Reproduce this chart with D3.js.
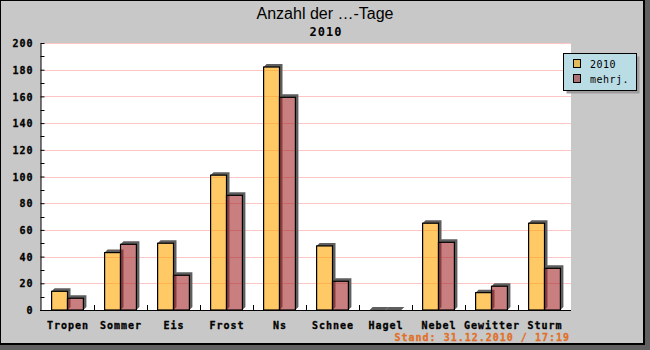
<!DOCTYPE html>
<html>
<head>
<meta charset="utf-8">
<script src="https://cdn.jsdelivr.net/npm/d3@7"></script>
<style>
  html, body { margin: 0; padding: 0; background: #ffffff; }
  svg { display: block; }
  .mono { font-family: "DejaVu Sans Mono", "Liberation Mono", monospace; }
</style>
</head>
<body>
<div id="chart"></div>
<script>
// Day counts per category: current year and the multi-year mean
const categories = ["Tropen", "Sommer", "Eis", "Frost", "Ns", "Schnee", "Hagel", "Nebel", "Gewitter", "Sturm"];
const values2010 = [14, 43, 50, 101, 182, 48, 0, 65, 13, 65];
const valuesMehrj = [8.8, 49.2, 26, 85.9, 159.3, 21.5, 0, 50.7, 17.8, 31.2];
const seriesNames = ["2010", "mehrj."];
const yTicks = [0, 20, 40, 60, 80, 100, 120, 140, 160, 180, 200];
const titleText = "Anzahl der \u2026-Tage";
const subtitleText = "2010";
const footerText = "Stand: 31.12.2010 / 17:19";

const W = 650, H = 350;
const plot = { left: 41, right: 571, top: 43, bottom: 310 };
const fills = ["rgba(255,165,0,0.6)", "rgba(165,42,42,0.6)"];
const shadowOff = 3;
const labelSize = 10;

const svg = d3.select("#chart").append("svg")
  .attr("width", W).attr("height", H);

// Frame with drop shadow
svg.append("rect").attr("x", 0).attr("y", 0).attr("width", W).attr("height", H).attr("fill", "#606060");
svg.append("rect").attr("x", 0).attr("y", 0).attr("width", 645).attr("height", 345).attr("fill", "#000");
svg.append("rect").attr("x", 1).attr("y", 1).attr("width", 642).attr("height", 342).attr("fill", "#c8c8c8");

// Plot background
svg.append("rect")
  .attr("x", plot.left).attr("y", plot.top)
  .attr("width", plot.right - plot.left).attr("height", plot.bottom - plot.top)
  .attr("fill", "#ffffff");

const x = d3.scaleBand().domain(categories).range([plot.left, plot.right]).paddingInner(0).paddingOuter(0);
const y = d3.scaleLinear().domain([0, 200]).range([plot.bottom, plot.top]);
const groupW = x.bandwidth() * 0.6;
const barW = groupW / 2;

// Horizontal grid lines
svg.append("g").selectAll("line").data(yTicks.filter(d => d > 0)).join("line")
  .attr("x1", plot.left).attr("x2", plot.right)
  .attr("y1", d => Math.round(y(d)) + 0.5).attr("y2", d => Math.round(y(d)) + 0.5)
  .attr("stroke", "#ffc4c4").attr("stroke-width", 1);

// Bars: each series draws its shadows and then its bars
const series = [values2010, valuesMehrj];
series.forEach((vals, si) => {
  const g = svg.append("g");
  const rows = categories.map((c, i) => {
    const x0 = x(c) + (x.bandwidth() - groupW) / 2 + si * barW;
    return { x0, x1: x0 + barW, yt: y(vals[i]), yb: y(0) };
  });
  g.selectAll("path.shadow").data(rows).join("path")
    .attr("class", "shadow")
    .attr("d", r => {
      const s = shadowOff;
      return `M${r.x0},${r.yt} L${r.x0 + s},${r.yt - s} L${r.x1 + s},${r.yt - s} L${r.x1 + s},${r.yb - s} L${r.x1},${r.yb} L${r.x1},${r.yt} Z`;
    })
    .attr("fill", "#5e5e5e");
  g.selectAll("rect.bar").data(rows).join("rect")
    .attr("class", "bar")
    .attr("x", r => r.x0).attr("y", r => r.yt)
    .attr("width", barW).attr("height", r => r.yb - r.yt)
    .attr("fill", fills[si])
    .attr("stroke", "#000").attr("stroke-width", 1.2);
});

// Y axis: major ticks with labels, minor ticks in between
const yAxis = d3.axisLeft(y).tickValues(yTicks).tickSize(-4).tickSizeOuter(0).tickPadding(8).tickFormat(d3.format("d"));
const yg = svg.append("g").attr("transform", `translate(${plot.left - 0.5},0)`).call(yAxis);
yg.select(".domain").attr("stroke", "#000");
yg.selectAll(".tick line").attr("stroke", "#000");
yg.selectAll("text")
  .attr("class", "mono")
  .attr("font-size", labelSize).attr("font-weight", "bold").attr("letter-spacing", "1px")
  .attr("stroke", "#000").attr("stroke-width", 0.3)
  .attr("fill", "#000").attr("dy", "0.36em").attr("x", -7);

const minorTicks = d3.range(10, 200, 20);
svg.append("g").selectAll("line").data(minorTicks).join("line")
  .attr("x1", plot.left - 0.5).attr("x2", plot.left + 3.5)
  .attr("y1", d => Math.round(y(d)) + 0.5).attr("y2", d => Math.round(y(d)) + 0.5)
  .attr("stroke", "#000");

// X axis: baseline, category labels, separators between groups
const xAxis = d3.axisBottom(x).tickSize(0).tickSizeOuter(0);
const xg = svg.append("g").attr("transform", `translate(0,${plot.bottom + 0.5})`).call(xAxis);
xg.select(".domain").attr("stroke", "#000").attr("d", `M${plot.left - 1},0H${plot.right}`);
xg.selectAll("text")
  .attr("class", "mono")
  .attr("font-size", labelSize).attr("font-weight", "bold").attr("letter-spacing", "1px")
  .attr("stroke", "#000").attr("stroke-width", 0.3)
  .attr("fill", "#000").attr("dy", null).attr("y", 18.3).attr("dx", "0.5px");

svg.append("g").selectAll("line").data(categories.slice(1)).join("line")
  .attr("x1", d => Math.round(x(d)) + 0.5).attr("x2", d => Math.round(x(d)) + 0.5)
  .attr("y1", plot.bottom - 5).attr("y2", plot.bottom)
  .attr("stroke", "#000");

// Titles
svg.append("text")
  .attr("x", 325).attr("y", 18.5).attr("text-anchor", "middle")
  .attr("font-family", "Liberation Sans, Arial, sans-serif").attr("font-size", 16)
  .attr("fill", "#000").text(titleText);
svg.append("text")
  .attr("class", "mono")
  .attr("x", 326).attr("y", 35.5).attr("text-anchor", "middle")
  .attr("font-size", 12).attr("font-weight", "bold").attr("letter-spacing", "1px")
  .attr("fill", "#000").text(subtitleText);

// Footer timestamp
svg.append("text")
  .attr("class", "mono")
  .attr("x", 570).attr("y", 340.5).attr("text-anchor", "end")
  .attr("font-size", labelSize).attr("font-weight", "bold").attr("letter-spacing", "1px")
  .attr("stroke", "#e07028").attr("stroke-width", 0.3)
  .attr("fill", "#e07028").text(footerText);

// Legend
const lg = svg.append("g");
lg.append("rect").attr("x", 566.5).attr("y", 56.5).attr("width", 73).attr("height", 37).attr("fill", "#9c9c9c");
lg.append("rect").attr("x", 563.5).attr("y", 53.5).attr("width", 73).attr("height", 37)
  .attr("fill", "#b9dce5").attr("stroke", "#000");
seriesNames.forEach((name, i) => {
  const yy = 59.5 + i * 15;
  lg.append("rect").attr("x", 573.5).attr("y", yy).attr("width", 7).attr("height", 8)
    .attr("fill", fills[i]).attr("stroke", "#000");
  lg.append("text").attr("class", "mono")
    .attr("x", 590).attr("y", yy + 8)
    .attr("font-size", 10).attr("letter-spacing", "0.5px")
    .attr("fill", "#000").text(name);
});
</script>
</body>
</html>
